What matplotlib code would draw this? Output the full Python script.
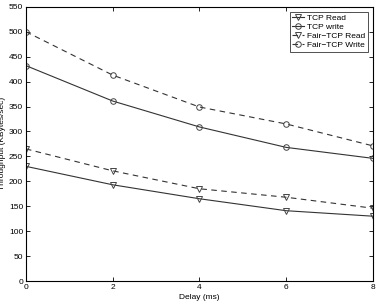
import matplotlib
matplotlib.use("Agg")
import matplotlib.pyplot as plt

plt.rcParams['font.family'] = ['Liberation Sans', 'DejaVu Sans']

delay = [0, 2, 4, 6, 8]
tcp_read = [230, 193, 165, 141, 130]
tcp_write = [432, 361, 309, 268, 246]
fair_read = [265, 221, 185, 168, 146]
fair_write = [500, 413, 349, 315, 271]
xticks = [0, 2, 4, 6, 8]
yticks = [0, 50, 100, 150, 200, 250, 300, 350, 400, 450, 500, 550]

fig = plt.figure(figsize=(3.81, 3.02), dpi=100)
ax = fig.add_axes([0.068, 0.0695, 0.911, 0.908])

mk = dict(markersize=4, markerfacecolor='none', markeredgecolor='#444444', markeredgewidth=0.7)
ax.plot(delay, tcp_read, '-v', color='#333333', lw=0.8, label='TCP Read', **mk)
ax.plot(delay, tcp_write, '-o', color='#333333', lw=0.8, label='TCP write', **mk)
ax.plot(delay, fair_read, '--v', color='#333333', lw=0.8, dashes=(5, 4), label='Fair\u2212TCP Read', **mk)
ax.plot(delay, fair_write, '--o', color='#333333', lw=0.8, dashes=(5, 4), label='Fair\u2212TCP Write', **mk)

ax.set_xlim(0, 8)
ax.set_ylim(0, 550)
ax.set_xticks(xticks)
ax.set_yticks(yticks)
ax.tick_params(direction='in', top=True, right=True, labelsize=6, length=3, width=0.6, pad=2)
for s in ax.spines.values():
    s.set_linewidth(0.8)
ax.set_xlabel('Delay (ms)', fontsize=6, labelpad=2)
ax.set_ylabel('Throughput (KBytes/sec)', fontsize=6, labelpad=2)

leg = ax.legend(loc='upper right', fontsize=6, frameon=True, fancybox=False,
                edgecolor='black', handlelength=1.4, handletextpad=0.4,
                borderpad=0.3, labelspacing=0.15, borderaxespad=0.6)
leg.get_frame().set_linewidth(0.6)

fig.savefig('out.png', dpi=100)
